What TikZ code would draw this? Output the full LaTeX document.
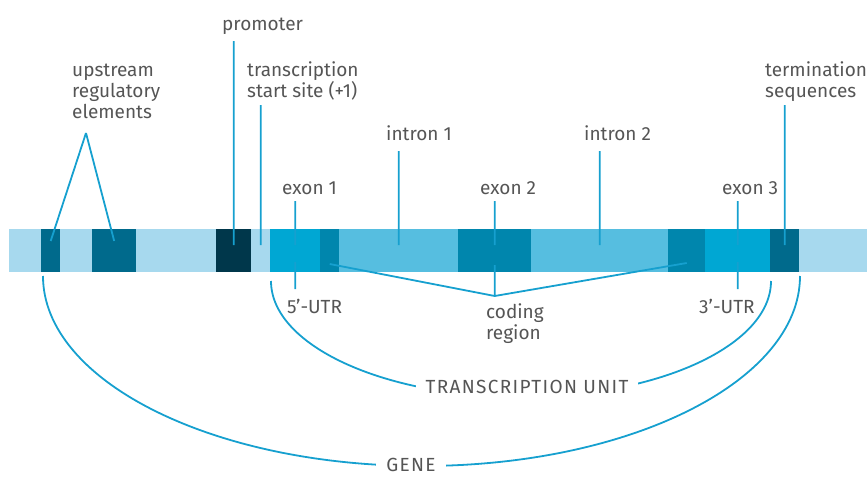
\documentclass[tikz,border=0pt]{standalone}
\usepackage{fontspec}
\setmainfont{Fira Sans}
\usetikzlibrary{positioning,calc}
\definecolor{barlight}{HTML}{A7D9EE}
\definecolor{regteal}{HTML}{006A8C}
\definecolor{promdark}{HTML}{00374B}
\definecolor{exonbright}{HTML}{00A7D3}
\definecolor{codingblue}{HTML}{0086AD}
\definecolor{intronblue}{HTML}{56BEE0}
\definecolor{leadblue}{HTML}{16A0CF}
\definecolor{txtgray}{HTML}{555555}

\begin{document}
\begin{tikzpicture}[x=1pt, y=-1pt,
    blk/.style={anchor=west, inner sep=0pt, minimum height=43pt},
    lbl/.style={anchor=base west, inner sep=0pt, text=txtgray, align=left, font=\fontsize{19}{21}\selectfont},
    caps/.style={anchor=base, fill=white, inner ysep=4pt, text depth=4pt, text=txtgray, font=\fontsize{19}{21}\selectfont\addfontfeature{LetterSpace=7}},
    lead/.style={draw=leadblue, line width=1.8pt}]
                        \useasboundingbox (0,0) rectangle (867,477);

                        \node[blk, fill=barlight, minimum width=32pt] (flankL) at (9, 250.5) {};
                        \node[blk, fill=regteal, minimum width=19pt] (up1) at (41, 250.5) {};
                        \node[blk, fill=barlight, minimum width=32pt] (gapA) at (60, 250.5) {};
                        \node[blk, fill=regteal, minimum width=44pt] (up2) at (92, 250.5) {};
                        \node[blk, fill=barlight, minimum width=80pt] (gapB) at (136, 250.5) {};
                        \node[blk, fill=promdark, minimum width=35pt] (prom) at (216, 250.5) {};
                        \node[blk, fill=barlight, minimum width=19pt] (tss) at (251, 250.5) {};
                        \node[blk, fill=exonbright, minimum width=50pt] (exI) at (270, 250.5) {};
                        \node[blk, fill=codingblue, minimum width=19pt] (cdA) at (320, 250.5) {};
                        \node[blk, fill=intronblue, minimum width=119pt] (inA) at (339, 250.5) {};
                        \node[blk, fill=codingblue, minimum width=73pt] (cdB) at (458, 250.5) {};
                        \node[blk, fill=intronblue, minimum width=137pt] (inB) at (531, 250.5) {};
                        \node[blk, fill=codingblue, minimum width=37pt] (cdC) at (668, 250.5) {};
                        \node[blk, fill=exonbright, minimum width=65pt] (exIII) at (705, 250.5) {};
                        \node[blk, fill=regteal, minimum width=29pt] (term) at (770, 250.5) {};
                        \node[blk, fill=barlight, minimum width=68pt] (flankR) at (799, 250.5) {};

                        \node[lbl] (lblup) at (72, 118) {upstream\\regulatory\\elements};
                        \node[lbl] (lblprom) at (222, 30) {promoter};
                        \node[lbl] (lbltss) at (247, 97) {transcription\\start site (+1)};
                        \node[lbl] (lblexI) at (282, 194) {exon 1};
                        \node[lbl] (lblinA) at (386, 140) {intron 1};
                        \node[lbl] (lblexII) at (480, 194) {exon 2};
                        \node[lbl] (lblinB) at (584, 140) {intron 2};
                        \node[lbl] (lblexIII) at (722, 194) {exon 3};
                        \node[lbl] (lblterm) at (765, 97) {termination\\sequences};
                        \node[lbl] (lblfive) at (287, 313) {5’-UTR};
                        \node[lbl] (lblthree) at (699, 313) {3’-UTR};
                        \node[lbl] (lblcoding) at (486, 339) {coding\\region};

                        \coordinate (upapex) at (86, 133);
                        \coordinate (fork) at ($(cdB.center)+(0, 45.5)$);
                        \coordinate (tuL) at (271, 281);
                        \coordinate (geneL) at (43, 276);

                        \draw[lead] (tuL) arc[start angle=180, end angle=360, x radius=250pt, y radius=116pt];
                        \draw[lead] (geneL) arc[start angle=180, end angle=360, x radius=378.5pt, y radius=190pt];
                        \node[caps, inner xsep=10pt] (lbltu) at (527, 393) {TRANSCRIPTION UNIT};
                        \node[caps, inner xsep=10pt, inner ysep=2pt, text depth=1pt] (lblgene) at (411, 471.5) {GENE};

                        \draw[lead]
                        (upapex) -- ([yshift=9.5pt]up1.center)
                        (upapex) -- ([yshift=9.5pt]up2.center)
                        ([yshift=-11pt]lblprom.base -| prom.center) -- ([yshift=5.5pt]prom.center)
                        ([yshift=-8pt]lbltss.base -| tss.center) -- ([yshift=5.5pt]tss.center)
                        ([yshift=-7pt]lblexI.base -| exI.center) -- ([yshift=5.5pt]exI.center)
                        ([yshift=-11pt]lblinA.base -| inA.center) -- ([yshift=5.5pt]inA.center)
                        ([yshift=-7pt]lblexII.base -| cdB.center) -- ([yshift=5.5pt]cdB.center)
                        ([yshift=-11pt]lblinB.base -| inB.center) -- ([yshift=5.5pt]inB.center)
                        ([yshift=-7pt]lblexIII.base -| exIII.center) -- ([yshift=5.5pt]exIII.center)
                        ([yshift=-8pt]lblterm.base -| term.center) -- ([yshift=5.5pt]term.center)
                        ([yshift=-11.5pt]exI.center) -- ([yshift=24pt]lblfive.base -| exI.center)
                        ([yshift=-11.5pt]exIII.center) -- ([yshift=24pt]lblthree.base -| exIII.center)
                        ([yshift=-13.5pt]cdA.center) -- (fork)
                        ([yshift=-12.5pt]cdC.center) -- (fork)
                        ([yshift=-14.5pt]cdB.center) -- (fork);
                    \end{tikzpicture}
\end{document}
